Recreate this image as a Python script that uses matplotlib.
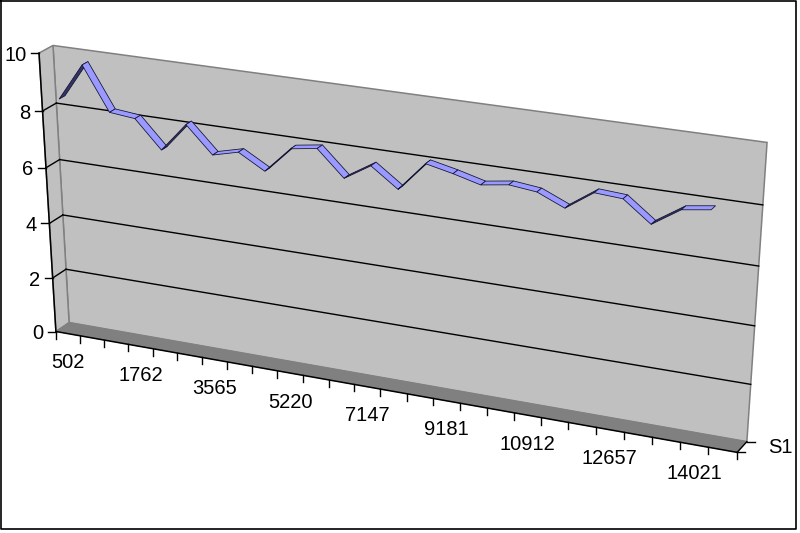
import numpy as np
import matplotlib
matplotlib.use("Agg")
import matplotlib.pyplot as plt
from matplotlib.transforms import Transform

categories = ["502", "", "", "1762", "", "", "3565", "", "", "5220", "", "", "7147", "", "",
              "9181", "", "", "10912", "", "", "12657", "", "", "14021"]
values = [8.38, 9.68, 8.17, 8.08, 7.12, 8.13, 7.21, 7.44, 6.92, 7.82, 7.96, 7.08, 7.64,
          6.98, 7.98, 7.78, 7.54, 7.68, 7.58, 7.18, 7.83, 7.77, 7.07, 7.69, 7.83]
series_name = "S1"
y_ticks = [0, 2, 4, 6, 8, 10]
n_slots = 26

plt.rcParams["font.family"] = ["Liberation Sans", "DejaVu Sans"]
FS = 14.5

# Camera of the 3D box: (category, value, depth) corners -> pixel positions
corners = [((0, 0, 0), (56, 332)), ((0, 10, 0), (39, 52.5)), ((26, 0, 0), (737, 452)),
           ((26, 10, 0), (757, 152)), ((0, 0, 1), (69, 322)), ((0, 10, 1), (53, 46)),
           ((26, 0, 1), (747, 442)), ((26, 10, 1), (767, 142))]
rows = []
for (a, b, c), (px, py) in corners:
    h = [a, b, c, 1]
    rows.append(h + [0, 0, 0, 0] + [-px * t for t in h])
    rows.append([0, 0, 0, 0] + h + [-py * t for t in h])
CAM = np.linalg.svd(np.array(rows, float))[2][-1].reshape(3, 4)


def project(c, v, d):
    c, v, d = np.broadcast_arrays(np.asarray(c, float), np.asarray(v, float), np.asarray(d, float))
    H = CAM @ np.vstack([c.ravel(), v.ravel(), d.ravel(), np.ones(c.size)])
    return H[0] / H[2], H[1] / H[2]


class Plane(Transform):
    """Maps (category, value) onto the plane at a given depth of the 3D box."""
    input_dims = output_dims = 2

    def __init__(self, plane_depth):
        super().__init__()
        self.plane_depth = plane_depth

    def transform_non_affine(self, xy):
        xy = np.asarray(xy)
        return np.column_stack(project(xy[:, 0], xy[:, 1], self.plane_depth))


fig = plt.figure(figsize=(8, 5.33), dpi=100, facecolor="white")
ax = fig.add_axes([0, 0, 1, 1])
ax.set_xlim(0, 800)
ax.set_ylim(533, 0)
ax.axis("off")

WALL, FLOOR, EDGE = "#c0c0c0", "#808080", "#808080"
front = Plane(0) + ax.transData
back = Plane(1) + ax.transData

# frame
ax.plot([0.5, 795.5, 795.5, 0.5, 0.5], [0.5, 0.5, 528.5, 528.5, 0.5], color="black", lw=1.2)

# walls and floor
ax.fill(*project([0, 26, 26, 0], [0, 0, 10, 10], 1), fc=WALL, ec=EDGE, lw=1.1, zorder=1)
ax.fill(*project(0, [0, 10, 10, 0], [0, 0, 1, 1]), fc=WALL, ec=EDGE, lw=1.1, zorder=1)
ax.fill(*project([0, 26, 26, 0], 0, [0, 0, 1, 1]), fc=FLOOR, ec=FLOOR, lw=0.5, zorder=2)

# gridlines
for t in y_ticks[1:-1]:
    ax.plot([0, n_slots], [t, t], transform=back, color="black", lw=1.0, zorder=2)
    ax.plot(*project(0, t, [0, 1]), color="black", lw=1.0, zorder=2)

# axes
ax.plot([0, 0], [0, 10], transform=front, color="black", lw=1.1, zorder=3)
ax.plot([0, n_slots], [0, 0], transform=front, color="black", lw=1.1, zorder=3)
ax.plot(*project(n_slots, 0, [0, 1]), color="black", lw=1.0, zorder=3)

for t in y_ticks:
    x0, y0 = project(0, t, 0)
    ax.plot([x0 - 8, x0], [y0, y0], color="black", lw=1.0, zorder=3)
    ax.annotate(str(t), xy=(0, t), xycoords=front, xytext=(-12.5, 0), textcoords="offset pixels",
                ha="right", va="center_baseline", fontsize=FS, color="black")

for c in range(n_slots + 1):
    x0, y0 = project(c, 0, 0)
    ax.plot([x0, x0], [y0, y0 + 7], color="black", lw=1.0, zorder=3)

for i, lab in enumerate(categories):
    if lab:
        ax.annotate(lab, xy=(i + 0.5, 0), xycoords=front, xytext=(0, -27), textcoords="offset pixels",
                    ha="center", va="center_baseline", fontsize=FS, color="black")

# series axis ticks + label
for d in (0, 1):
    x0, y0 = project(n_slots, 0, d)
    ax.plot([x0, x0 + 8], [y0, y0], color="black", lw=1.0, zorder=3)
ax.annotate(series_name, xy=(n_slots, 0), xycoords=back, xytext=(34, -4), textcoords="offset pixels",
            ha="center", va="center_baseline", fontsize=FS, color="black")

# ribbon
cat_pos = np.arange(len(values)) + 0.5
vals = np.array(values)
D0, D1 = 0.35, 0.78
for i in range(len(vals) - 1):
    cs = [cat_pos[i], cat_pos[i + 1], cat_pos[i + 1], cat_pos[i]]
    vs = [vals[i], vals[i + 1], vals[i + 1], vals[i]]
    ds = [D0, D0, D1, D1]
    xs, ys = project(cs, vs, ds)
    rising = ys[1] < ys[0] - 8
    ax.fill(xs, ys, fc="#333366" if rising else "#9999ff", ec="#101030", lw=0.55, zorder=4 + i * 0.01)

fig.savefig("out.png", dpi=100, facecolor="white")
